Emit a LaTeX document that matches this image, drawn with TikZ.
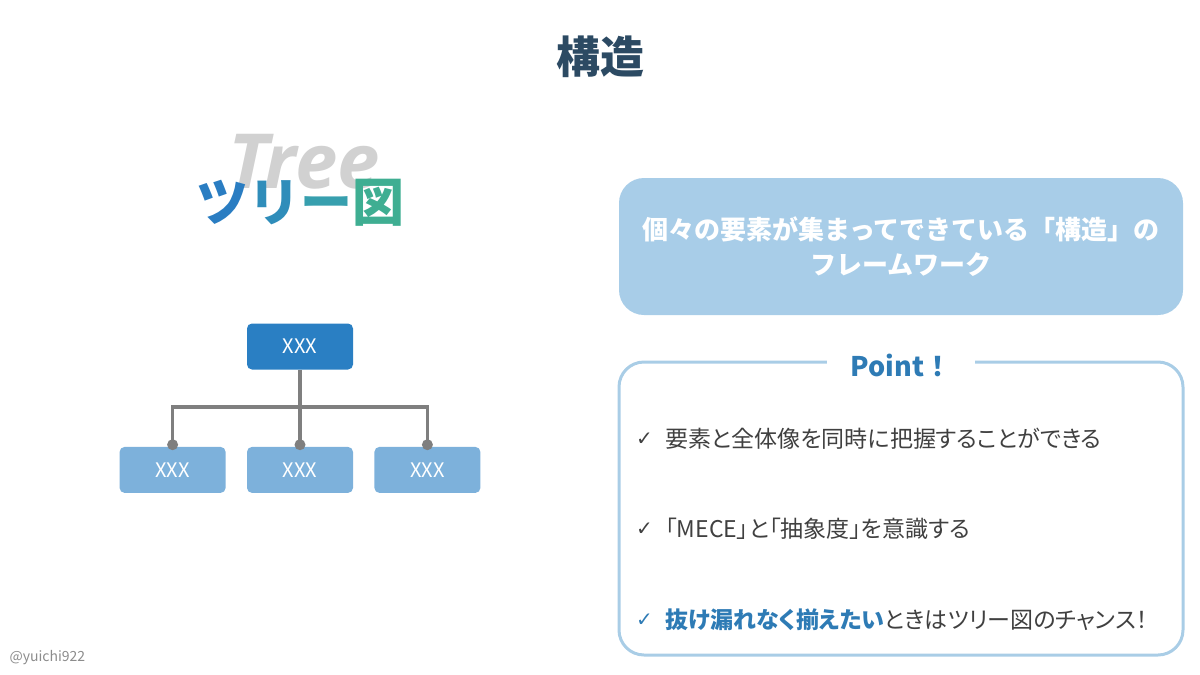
\documentclass[tikz,border=0pt]{standalone}
\usepackage{fontspec}
\usepackage{tikz}
\usetikzlibrary{shapes,arrows,fit,positioning}
\setmainfont{Noto Sans CJK JP}
\newfontfamily\jpprop{Noto Sans CJK JP}[RawFeature=+palt]
\newfontfamily\treefont{Open Sans}
\newfontfamily\symfont{DejaVu Sans}

\definecolor{titlenavy}{HTML}{2C4A63}
\definecolor{rootblue}{HTML}{2A7FC3}
\definecolor{leafblue}{HTML}{7DB1DB}
\definecolor{conngray}{HTML}{7F7F7F}
\definecolor{leadblue}{HTML}{A8CDE8}
\definecolor{frameblue}{HTML}{A9CDE6}
\definecolor{pointblue}{HTML}{2E7BB5}
\definecolor{textgray}{HTML}{404040}
\definecolor{tsublue}{HTML}{2A7DC2}
\definecolor{riblue}{HTML}{2F8DBA}
\definecolor{barteal}{HTML}{379FAE}
\definecolor{zugreen}{HTML}{3FAE92}

\tikzset{
  xbox/.style={rounded corners=5pt, minimum width=106pt, minimum height=46pt,
    text=white, font=\fontsize{20}{24}\selectfont},
  rootbox/.style={xbox, fill=rootblue},
  leafbox/.style={xbox, fill=leafblue},
  conn/.style={draw=conngray, line width=3.5pt},
  leadbox/.style={fill=leadblue, rounded corners=25pt, minimum width=564pt,
    minimum height=137pt, align=center, text=white,
    font=\bfseries\fontsize{26}{35}\selectfont},
  frame/.style={draw=frameblue, line width=3pt, rounded corners=25pt,
    minimum width=564pt, minimum height=293pt},
  pointlabel/.style={fill=white, minimum width=148pt, text=pointblue,
    font=\bfseries\fontsize{27}{30}\selectfont},
  chk/.style={anchor=west, inner sep=0pt, text=textgray, font=\symfont\bfseries\fontsize{20}{22}\selectfont},
  item/.style={anchor=west, inner sep=0pt, text=textgray, font=\jpprop\fontsize{23}{26}\selectfont},
}

\begin{document}
\begin{tikzpicture}[x=1pt,y=-1pt]
\useasboundingbox (0,0) rectangle (1200,675);

\node[text=titlenavy, font=\bfseries\fontsize{44}{48}\selectfont] (title) at (600,57) {構造};

\node[text=black!18, font=\treefont\bfseries\itshape\fontsize{76}{80}\selectfont] (tree) at (304,162) {Tree};
\node[font=\bfseries\fontsize{52}{56}\selectfont, inner sep=0pt] (tsuri) at (300,203)
  {\textcolor{tsublue}{ツ}\textcolor{riblue}{リ}\textcolor{barteal}{ー}\textcolor{zugreen}{図}};

\node[rootbox] (root) at (300,346.5) {XXX};
\node[leafbox, below=77pt of root] (mid) {XXX};
\node[leafbox, left=21pt of mid] (left) {XXX};
\node[leafbox, right=21pt of mid] (right) {XXX};
\coordinate (bar) at (300,407);
\draw[conn] (root.south) -- (mid.north);
\draw[conn] (left.north) |- (bar) -| (right.north);
\foreach \n in {left,mid,right}
  \fill[conngray] ([yshift=2pt]\n.north) circle (5.5pt);

\node[leadbox] (lead) at (901,246.5) {個々の要素が集まってできている「構造」の\\フレームワーク};

\node[frame] (frame) at (901,508.5) {};
\node[pointlabel] (point) at ([yshift=-5pt]frame.north) {Point！};

\node[chk] (chk1) at (636,439) {✓};
\node[item, right=12pt of chk1] (item1) {要素と全体像を同時に把握することができる};
\node[chk] (chk2) at (636,529) {✓};
\node[item, right=12pt of chk2] (item2) {「MECE」と「抽象度」を意識する};
\node[chk, text=pointblue] (chk3) at (636,620) {✓};
\node[item, right=12pt of chk3] (item3) {{\bfseries\color{pointblue}抜け漏れなく揃えたい}ときはツリー図のチャンス！};

\node[anchor=west, text=black!45, font=\fontsize{14}{16}\selectfont] (handle) at (6,658) {@yuichi922};
\end{tikzpicture}
\end{document}
